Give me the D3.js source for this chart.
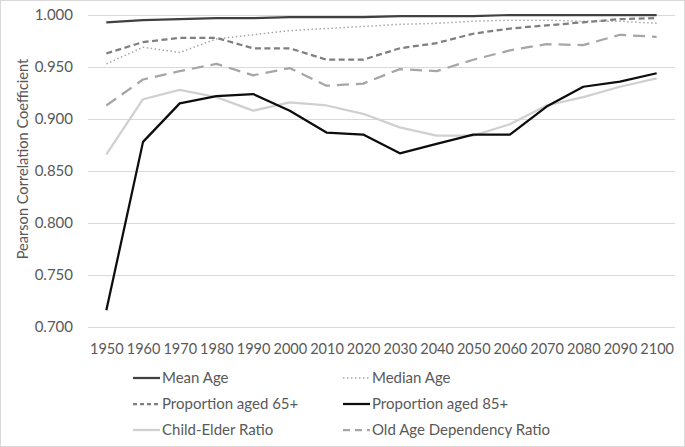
<!DOCTYPE html>
<html><head><meta charset="utf-8">
<script src="https://cdn.jsdelivr.net/npm/d3@7"></script>
<style>body{margin:0;background:#fff}svg{display:block}text{font-family:Lato,"Open Sans",sans-serif;fill:#595959}</style>
</head><body><svg id="c" width="685" height="447"></svg>
<script>
const years = ["1950","1960","1970","1980","1990","2000","2010","2020","2030","2040","2050","2060","2070","2080","2090","2100"];
const yTicks = [0.700,0.750,0.800,0.850,0.900,0.950,1.000];
const meanAge = [0.993,0.995,0.996,0.997,0.997,0.998,0.998,0.998,0.999,0.999,0.999,1.000,1.000,1.000,1.000,1.000];
const medianAge = [0.953,0.969,0.964,0.977,0.981,0.985,0.987,0.989,0.991,0.992,0.994,0.995,0.995,0.994,0.994,0.992];
const prop65 = [0.963,0.974,0.978,0.978,0.968,0.968,0.957,0.957,0.968,0.973,0.982,0.987,0.990,0.993,0.996,0.997];
const prop85 = [0.716,0.878,0.915,0.922,0.924,0.908,0.887,0.885,0.867,0.876,0.885,0.885,0.912,0.931,0.936,0.944];
const childElder = [0.866,0.919,0.928,0.921,0.908,0.916,0.913,0.905,0.892,0.884,0.884,0.895,0.913,0.921,0.931,0.939];
const oldAgeDep = [0.913,0.938,0.946,0.953,0.942,0.949,0.932,0.934,0.948,0.946,0.957,0.966,0.972,0.971,0.981,0.979];

const series = [
  {name:"Mean Age", values:meanAge, color:"#404040", width:2.25, dash:null, ldash:null},
  {name:"Median Age", values:medianAge, color:"#a6a6a6", width:1.5, dash:"1.5,2.5", ldash:"1.5,2.5"},
  {name:"Proportion aged 65+", values:prop65, color:"#7f7f7f", width:2.25, dash:"6,3.5", ldash:"4,3"},
  {name:"Proportion aged 85+", values:prop85, color:"#0d0d0d", width:2.25, dash:null, ldash:null},
  {name:"Child-Elder Ratio", values:childElder, color:"#d0d0d0", width:2.25, dash:null, ldash:null},
  {name:"Old Age Dependency Ratio", values:oldAgeDep, color:"#a6a6a6", width:2.25, dash:"12,7", ldash:"7,5"}
];

const svg = d3.select("#c");
svg.append("rect").attr("x",0.5).attr("y",0.5).attr("width",684).attr("height",446)
  .attr("fill","#fff").attr("stroke","#d9d9d9");

const L=88, R=675, T=15, B=327;
const x = d3.scalePoint().domain(years).range([L,R]).padding(0.5);
const y = d3.scaleLinear().domain([0.7,1.0]).range([B,T]);

svg.append("g").selectAll("line").data(yTicks).join("line")
  .attr("x1",L).attr("x2",R).attr("y1",d=>Math.round(y(d))+0.5).attr("y2",d=>Math.round(y(d))+0.5)
  .attr("stroke","#d9d9d9").attr("stroke-width",1);

const yAxis = svg.append("g").attr("transform",`translate(${L},0)`)
  .call(d3.axisLeft(y).tickValues(yTicks).tickFormat(d3.format(".3f")).tickSize(0).tickPadding(15));
yAxis.select(".domain").remove();
yAxis.selectAll("text").attr("font-size","15px").style("fill","#595959").style("font-family","Lato,sans-serif");

const xAxis = svg.append("g").attr("transform",`translate(0,${B})`)
  .call(d3.axisBottom(x).tickSize(0).tickPadding(17));
xAxis.select(".domain").remove();
xAxis.selectAll("text").attr("font-size","14.5px").style("fill","#595959").style("font-family","Lato,sans-serif");

svg.append("text").attr("transform","translate(28,159) rotate(-90)").attr("text-anchor","middle")
  .attr("font-size","14.6px").text("Pearson Correlation Coefficient");

const line = d3.line().x((d,i)=>x(years[i])).y(d=>y(d));
const order = [4,5,1,2,0,3];
order.forEach(k=>{
  const s = series[k];
  svg.append("path").datum(s.values).attr("d",line).attr("fill","none")
    .attr("stroke",s.color).attr("stroke-width",s.width)
    .attr("stroke-dasharray",s.dash).attr("stroke-linejoin","round");
});

const lg = svg.append("g");
series.forEach((s,i)=>{
  const col = i%2, row = Math.floor(i/2);
  const lx = col===0 ? 133 : 343, ly = 378 + row*26;
  lg.append("line").attr("x1",lx).attr("x2",lx+27).attr("y1",ly).attr("y2",ly)
    .attr("stroke",s.color).attr("stroke-width",s.width).attr("stroke-dasharray",s.ldash);
  lg.append("text").attr("x",lx+29).attr("y",ly).attr("dy","0.35em").attr("font-size","15px").text(s.name);
});
</script></body></html>
